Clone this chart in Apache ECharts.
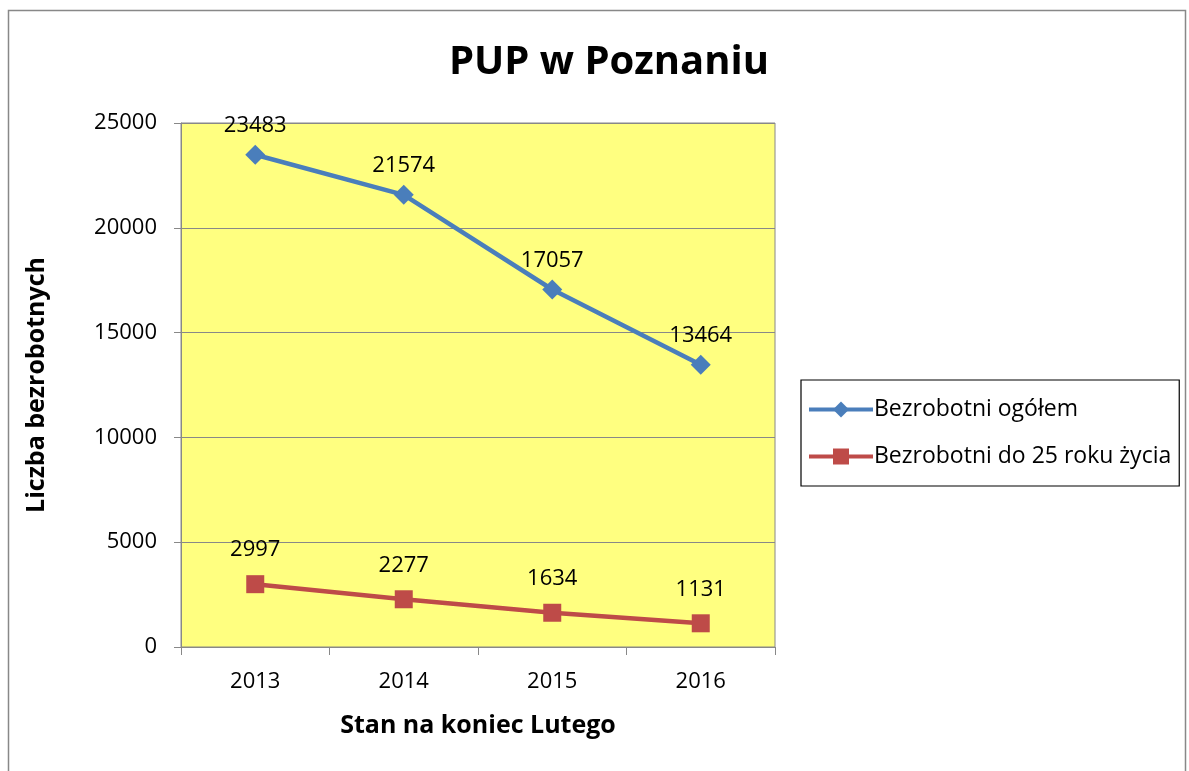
<!DOCTYPE html>
<html>
<head>
<meta charset="utf-8">
<script src="https://cdn.jsdelivr.net/npm/echarts@6/dist/echarts.min.js"></script>
<style>
  html, body { margin: 0; padding: 0; background: #fff; }
  #chart { width: 1189px; height: 771px; }
</style>
</head>
<body>
<div id="chart"></div>
<script>
// dane z wykresu
var years = ["2013", "2014", "2015", "2016"];
var ogolem = [23483, 21574, 17057, 13464];
var do25 = [2997, 2277, 1634, 1131];

var font = "'Open Sans', 'DejaVu Sans', sans-serif";
var myChart = echarts.init(document.getElementById("chart"));

var option = {
  backgroundColor: "#fff",
  textStyle: { fontFamily: font },
  graphic: [
    {
      type: "rect",
      shape: { x: 8.5, y: 10.5, width: 1177, height: 780 },
      style: { fill: "none", stroke: "#888", lineWidth: 1.5 },
      silent: true
    }
  ],
  title: {
    text: "PUP w Poznaniu",
    left: 604,
    top: 38,
    textAlign: "center",
    textStyle: { fontFamily: font, fontSize: 40, fontWeight: "bold", color: "#000" }
  },
  legend: {
    orient: "vertical",
    left: 801,
    top: 380,
    padding: [18, 8, 18, 6],
    borderColor: "#000",
    borderWidth: 1.2,
    itemWidth: 64,
    itemHeight: 20,
    itemGap: 24,
    lineStyle: { width: 4 },
    textStyle: { fontFamily: font, fontSize: 23, color: "#000", padding: [0, 0, 0, -4] },
    data: ["Bezrobotni ogółem", "Bezrobotni do 25 roku życia"]
  },
  grid: {
    left: 181,
    top: 123,
    width: 594,
    height: 524,
    show: true,
    backgroundColor: "#ffff80",
    borderColor: "#888",
    borderWidth: 1
  },
  xAxis: {
    type: "category",
    data: years,
    boundaryGap: true,
    name: "Stan na koniec Lutego",
    nameLocation: "middle",
    nameGap: 66,
    nameTextStyle: { fontFamily: font, fontSize: 25, fontWeight: "bold", color: "#000" },
    axisLine: { lineStyle: { color: "#888", width: 1 } },
    axisTick: { show: true, length: 8, lineStyle: { color: "#888" } },
    axisLabel: { fontFamily: font, fontSize: 22, color: "#000", margin: 24 }
  },
  yAxis: {
    type: "value",
    min: 0,
    max: 25000,
    interval: 5000,
    name: "Liczba bezrobotnych",
    nameLocation: "middle",
    nameGap: 132,
    nameTextStyle: { fontFamily: font, fontSize: 25, fontWeight: "bold", color: "#000" },
    axisLine: { show: true, lineStyle: { color: "#888", width: 1 } },
    axisTick: { show: true, length: 7, lineStyle: { color: "#888" } },
    axisLabel: {
      fontFamily: font,
      fontSize: 22,
      color: "#000",
      margin: 24,
      formatter: function (v) { return String(v); }
    },
    splitLine: { show: true, lineStyle: { color: "#888", width: 1 } }
  },
  series: [
    {
      name: "Bezrobotni ogółem",
      type: "line",
      data: ogolem,
      symbol: "diamond",
      symbolSize: 20,
      color: "#4a7ebb",
      lineStyle: { width: 4.5, color: "#4a7ebb" },
      itemStyle: { color: "#4a7ebb" },
      label: {
        show: true,
        position: "top",
        distance: 8,
        fontFamily: font,
        fontSize: 22,
        color: "#000"
      },
      animation: false
    },
    {
      name: "Bezrobotni do 25 roku życia",
      type: "line",
      data: do25,
      symbol: "rect",
      symbolSize: 18,
      color: "#be4b48",
      lineStyle: { width: 4.5, color: "#be4b48" },
      itemStyle: { color: "#be4b48" },
      label: {
        show: true,
        position: "top",
        distance: 14,
        fontFamily: font,
        fontSize: 22,
        color: "#000"
      },
      animation: false
    }
  ]
};

myChart.setOption(option);
</script>
</body>
</html>
